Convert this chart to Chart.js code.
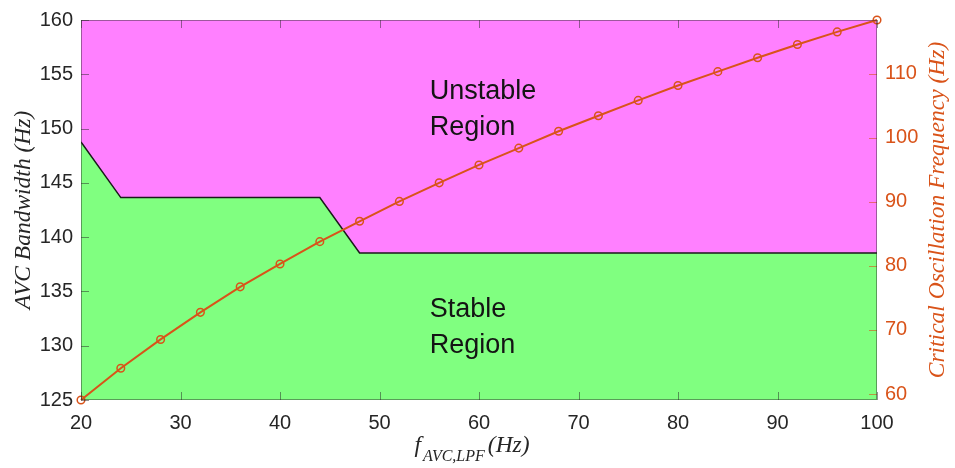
<!DOCTYPE html>
<html>
<head>
<meta charset="utf-8">
<script src="https://cdn.jsdelivr.net/npm/chart.js@4.4.1/dist/chart.umd.min.js"></script>
<style>
  body { margin: 0; background: #fff; }
  #wrap { width: 955px; height: 468px; position: relative; }
</style>
</head>
<body>
<div id="wrap"><canvas id="stabChart"></canvas></div>
<script>
// stability boundary (left axis, AVC bandwidth in Hz)
const boundaryX = [20, 24, 44, 48, 100];
const boundaryBw = [148.76, 143.64, 143.64, 138.55, 138.55];

// critical oscillation frequency (right axis, Hz)
const lpfX = [20, 24, 28, 32, 36, 40, 44, 48, 52, 56, 60, 64, 68, 72, 76, 80, 84, 88, 92, 96, 100];
const critFreq = [59.07, 64.03, 68.52, 72.75, 76.73, 80.30, 83.78, 86.96, 90.06, 92.96, 95.75,
                  98.38, 101.01, 103.43, 105.82, 108.14, 110.31, 112.48, 114.54, 116.51, 118.37];

const regionLabels = [
    { lines: ['Unstable', 'Region'], x: 55.05, y: [152.7, 149.4] },
    { lines: ['Stable', 'Region'], x: 55.05, y: [132.6, 129.3] }
];

const ORANGE = '#D95319';
const AXIS_TXT = '#262626';
const SANS = '"Liberation Sans", Arial, sans-serif';
const SERIF = '"Liberation Serif", "Times New Roman", serif';

const toPts = (xs, ys) => xs.map((x, i) => ({ x: x, y: ys[i] }));

// inside ticks, box, titles and region text (MATLAB look)
const decor = {
    id: 'decor',
    afterDatasetsDraw(chart) {
        const { ctx, chartArea: a, scales } = chart;
        const tl = 8;
        ctx.save();
        ctx.lineWidth = 1;
        ctx.strokeStyle = 'rgba(40,40,40,0.5)';
        ctx.beginPath();
        scales.x.ticks.forEach(t => {
            const px = Math.round(scales.x.getPixelForValue(t.value)) + 0.5;
            ctx.moveTo(px, a.bottom); ctx.lineTo(px, a.bottom - tl);
            ctx.moveTo(px, a.top); ctx.lineTo(px, a.top + tl);
        });
        scales.y.ticks.forEach(t => {
            const py = Math.round(scales.y.getPixelForValue(t.value)) + 0.5;
            ctx.moveTo(a.left, py); ctx.lineTo(a.left + tl, py);
        });
        ctx.stroke();
        ctx.strokeStyle = 'rgba(217,83,25,0.6)';
        ctx.beginPath();
        scales.y1.ticks.forEach(t => {
            const py = Math.round(scales.y1.getPixelForValue(t.value)) + 0.5;
            ctx.moveTo(a.right, py); ctx.lineTo(a.right - tl, py);
        });
        ctx.stroke();
        ctx.strokeStyle = 'rgba(40,40,40,0.45)';
        ctx.strokeRect(a.left + 0.5, a.top + 0.5, a.width - 1, a.height - 1);

        // region labels
        ctx.fillStyle = '#141414';
        ctx.font = '27px ' + SANS;
        ctx.textAlign = 'left';
        ctx.textBaseline = 'alphabetic';
        regionLabels.forEach(r => {
            r.lines.forEach((txt, i) => {
                ctx.fillText(txt, scales.x.getPixelForValue(r.x), scales.y.getPixelForValue(r.y[i]));
            });
        });

        // y axis titles
        const midY = (a.top + a.bottom) / 2;
        ctx.textAlign = 'center';
        ctx.textBaseline = 'middle';
        ctx.font = 'italic 23.5px ' + SERIF;
        ctx.save();
        ctx.translate(24, midY);
        ctx.rotate(-Math.PI / 2);
        ctx.fillStyle = AXIS_TXT;
        ctx.fillText('AVC Bandwidth (Hz)', 0, 0);
        ctx.restore();
        ctx.save();
        ctx.translate(938, midY);
        ctx.rotate(-Math.PI / 2);
        ctx.fillStyle = ORANGE;
        ctx.fillText('Critical Oscillation Frequency (Hz)', 0, 0);
        ctx.restore();

        // x axis title with subscript
        ctx.textAlign = 'left';
        ctx.textBaseline = 'alphabetic';
        ctx.fillStyle = AXIS_TXT;
        const big = 'italic 23.5px ' + SERIF, small = 'italic 16px ' + SERIF;
        ctx.font = big; const wf = ctx.measureText('f').width;
        const wh = ctx.measureText('(Hz)').width;
        ctx.font = small; const ws = ctx.measureText('AVC,LPF').width;
        const gap = 3;
        let x0 = (a.left + a.right) / 2 - 7 - (wf + 2 + ws + gap + wh) / 2;
        ctx.font = big; ctx.fillText('f', x0, 452);
        ctx.font = small; ctx.fillText('AVC,LPF', x0 + wf + 2, 461);
        ctx.font = big; ctx.fillText('(Hz)', x0 + wf + 2 + ws + gap, 452);
        ctx.restore();
    }
};

const ctx = document.getElementById('stabChart').getContext('2d');
new Chart(ctx, {
    type: 'line',
    data: {
        datasets: [
            {
                label: 'Critical Oscillation Frequency',
                data: toPts(lpfX, critFreq),
                yAxisID: 'y1',
                borderColor: ORANGE,
                borderWidth: 2,
                pointStyle: 'circle',
                pointRadius: 3.8,
                pointBorderWidth: 1.5,
                pointBorderColor: ORANGE,
                pointBackgroundColor: 'rgba(0,0,0,0)',
                fill: false,
                tension: 0,
                clip: false,
                order: 0
            },
            {
                label: 'Stable Region',
                data: toPts(boundaryX, boundaryBw),
                yAxisID: 'y',
                borderColor: '#1a1a1a',
                borderWidth: 1.5,
                backgroundColor: '#80FF80',
                pointRadius: 0,
                fill: 'start',
                tension: 0,
                order: 1
            },
            {
                label: 'Unstable Region',
                data: toPts(boundaryX, boundaryBw),
                yAxisID: 'y',
                borderWidth: 0,
                borderColor: 'rgba(0,0,0,0)',
                backgroundColor: '#FF80FF',
                pointRadius: 0,
                fill: 'end',
                tension: 0,
                order: 2
            }
        ]
    },
    options: {
        responsive: true,
        maintainAspectRatio: false,
        animation: false,
        layout: { padding: { top: 17, left: 0, right: 0, bottom: 0 } },
        plugins: {
            legend: { display: false },
            tooltip: { enabled: false }
        },
        scales: {
            x: {
                type: 'linear',
                min: 20,
                max: 100,
                grid: { display: false, drawTicks: false },
                border: { display: false },
                ticks: { stepSize: 10, padding: 11, color: AXIS_TXT, font: { family: SANS, size: 20 } },
                afterFit: s => { s.height = 68; }
            },
            y: {
                type: 'linear',
                position: 'left',
                min: 125,
                max: 160,
                grid: { display: false, drawTicks: false },
                border: { display: false },
                ticks: { stepSize: 5, padding: 8, color: AXIS_TXT, font: { family: SANS, size: 20 } },
                afterFit: s => { s.width = 81; }
            },
            y1: {
                type: 'linear',
                position: 'right',
                min: Math.min(...critFreq),
                max: Math.max(...critFreq),
                grid: { display: false, drawTicks: false },
                border: { display: false },
                ticks: { stepSize: 10, includeBounds: false, padding: 8, color: ORANGE, font: { family: SANS, size: 20 } },
                afterFit: s => { s.width = 78; }
            }
        }
    },
    plugins: [decor]
});
</script>
</body>
</html>
